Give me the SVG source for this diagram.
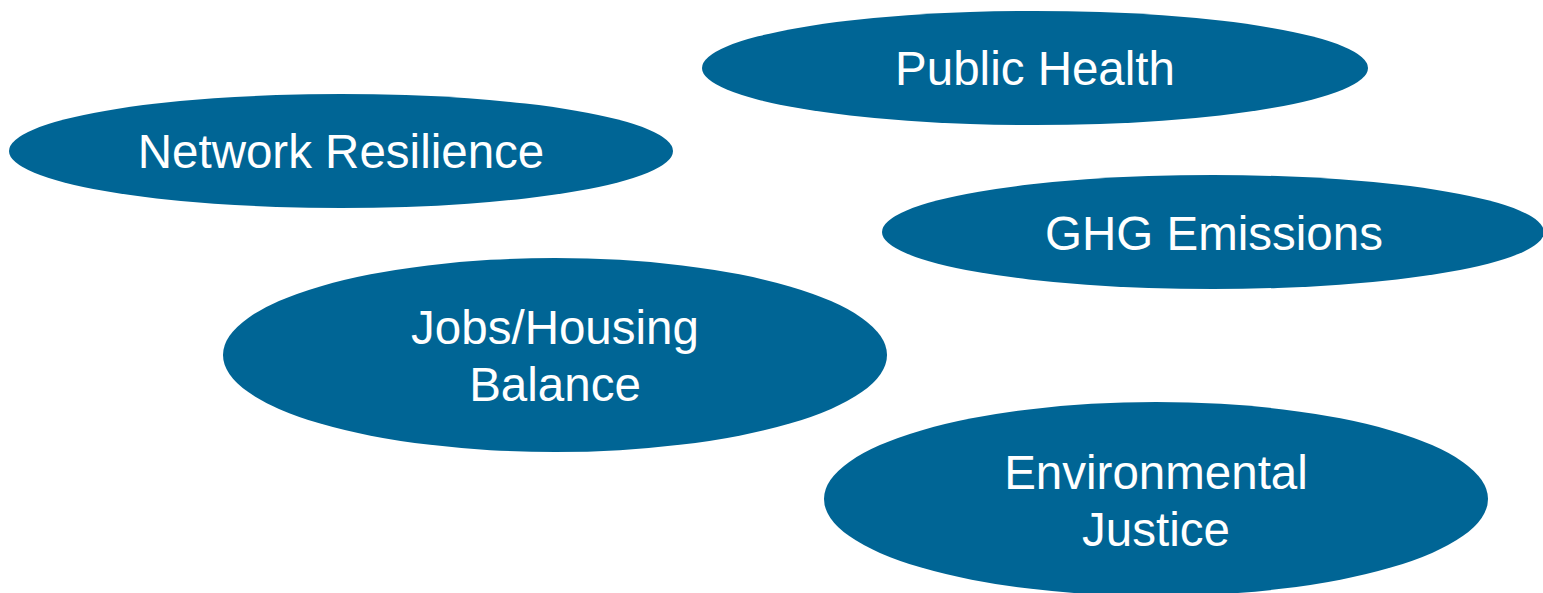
<svg xmlns="http://www.w3.org/2000/svg" width="1543" height="593" viewBox="0 0 1543 593">
<style>
.n{fill:#006595;}
.t{fill:#ffffff;font-family:"Liberation Sans",Arial,sans-serif;font-size:47.5px;text-anchor:middle;}
</style>
<rect width="1543" height="593" fill="#ffffff"/>
<g id="connectors"></g>
<g id="public-health"><ellipse class="n" cx="1035" cy="68" rx="333" ry="57"/><text class="t" x="1035" y="85">Public Health</text></g>
<g id="network-resilience"><ellipse class="n" cx="341" cy="151" rx="332" ry="57"/><text class="t" x="341" y="168">Network Resilience</text></g>
<g id="ghg-emissions"><ellipse class="n" cx="1213" cy="232" rx="331" ry="57"/><text class="t" x="1214" y="250">GHG Emissions</text></g>
<g id="jobs-housing"><ellipse class="n" cx="555" cy="355" rx="332" ry="97"/><text class="t" x="555" y="344">Jobs/Housing</text><text class="t" x="555" y="401">Balance</text></g>
<g id="environmental-justice"><ellipse class="n" cx="1156" cy="499" rx="332" ry="97"/><text class="t" x="1156" y="489">Environmental</text><text class="t" x="1156" y="546">Justice</text></g>
</svg>
